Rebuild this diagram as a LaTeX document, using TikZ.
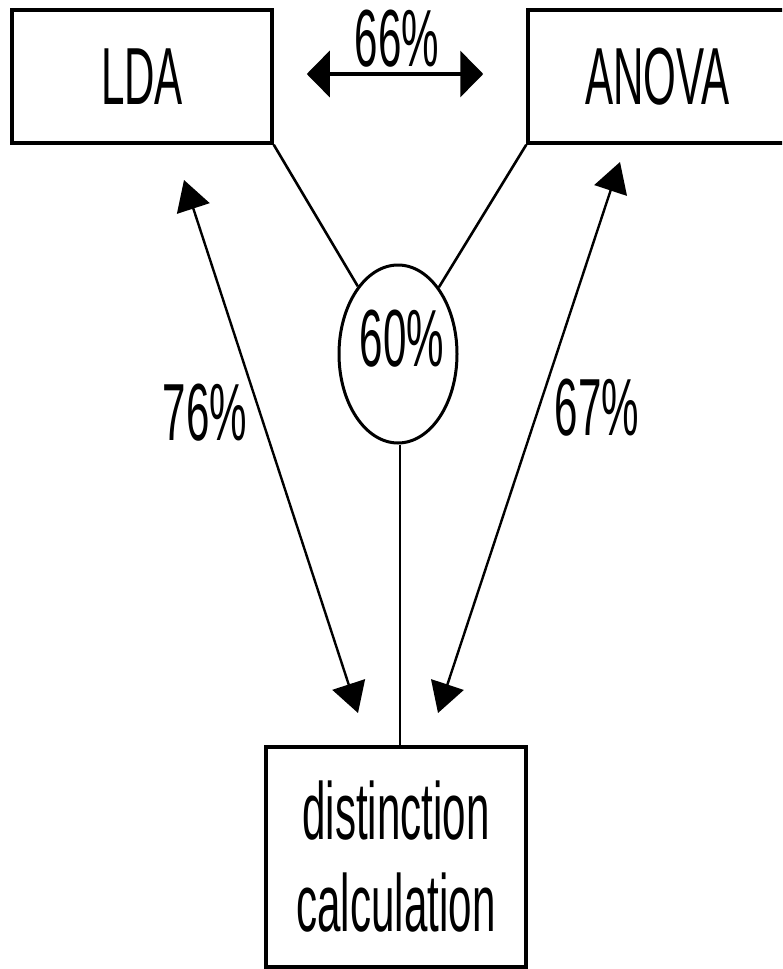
\documentclass[tikz,border=0pt]{standalone}
\usepackage{fontspec}
\setmainfont{Liberation Sans}[FakeStretch=0.52]
\usetikzlibrary{arrows.meta,shapes.geometric}
\begin{document}
\begin{tikzpicture}[x=1pt,y=-1pt,
  txt/.style={font=\fontsize{81}{92}\selectfont, inner sep=0pt},
  box/.style={draw, line width=3.5pt, rectangle, inner sep=0pt, txt},
  conn/.style={line width=2.6pt},
  harrow/.style={line width=3.5pt, {Triangle[length=23pt,width=46pt]}-{Triangle[length=23pt,width=46pt]}},
  darrow/.style={line width=2.4pt, {Triangle[length=30pt,width=34pt]}-{Triangle[length=30pt,width=34pt]}}]
\useasboundingbox (0,0) rectangle (782,969);
\begin{scope}
\clip (0,0) rectangle (782,969);
\node[box, minimum width=260pt, minimum height=133pt] (lda) at (142,76.5) {LDA};
\node[box, minimum width=259pt, minimum height=133pt] (anova) at (657.5,76.5) {ANOVA};
\node[draw, ellipse, line width=3pt, minimum width=118pt, minimum height=178pt, inner sep=0pt, txt] (ell) at (398,354) {};
\node[txt] (pct) at (402,339) {60\%};
\node[box, align=center, minimum width=260pt, minimum height=220pt] (dist) at (396,857) {distinction\\calculation};
\node[txt] (l66) at (397,39) {66\%};
\node[txt] (l76) at (205,413) {76\%};
\node[txt] (l67) at (597,408) {67\%};
\coordinate (ldatip) at (184,180);
\coordinate (ldadist) at (358,713);
\coordinate (anovatip) at (620,162);
\coordinate (anovadist) at (438,713);
\draw[harrow, shorten <=33pt, shorten >=43pt] ([yshift=2.5pt]lda.east) -- ([yshift=2.5pt]anova.west);
\draw[conn] (lda.south east) -- (ell);
\draw[conn] (anova.south west) -- (ell);
\draw[conn] ([xshift=2pt]ell.south) -- ([xshift=2pt]ell.south |- dist.north);
\draw[darrow] (ldatip) -- (ldadist);
\draw[darrow] (anovatip) -- (anovadist);
\end{scope}
\end{tikzpicture}
\end{document}
